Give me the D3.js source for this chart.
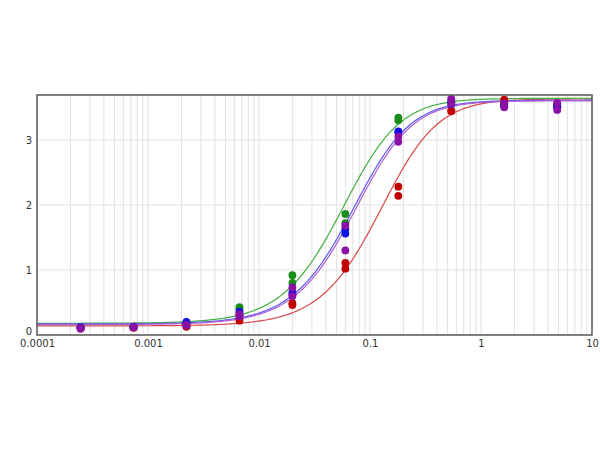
<!DOCTYPE html>
<html><head><meta charset="utf-8">
<script src="https://cdn.jsdelivr.net/npm/d3@7"></script>
<style>body{margin:0;background:#fff}svg{display:block}</style>
</head><body>
<svg id="c" width="600" height="450"></svg>
<script>
// Concentrations (3-fold dilution series)
const concentrations = [0.000247, 0.000741, 0.00222, 0.00667, 0.02, 0.06, 0.18, 0.54, 1.62, 4.86];
const xTickLabels = ["0.0001", "0.001", "0.01", "0.1", "1", "10"];
const yTickLabels = ["0", "1", "2", "3"];
const seriesNames = ["red", "green", "blue", "purple"];
// Replicate readings (two per concentration)
const redRep1    = [0.10, 0.11, 0.13, 0.28, 0.49, 1.11, 2.28, 3.45, 3.62, 3.55];
const redRep2    = [0.11, 0.12, 0.13, 0.22, 0.46, 1.02, 2.14, 3.44, 3.58, 3.50];
const greenRep1  = [0.12, 0.12, 0.17, 0.43, 0.92, 1.86, 3.34, 3.60, 3.55, 3.55];
const greenRep2  = [0.12, 0.12, 0.18, 0.40, 0.80, 1.72, 3.30, 3.57, 3.52, 3.50];
const blueRep1   = [0.11, 0.12, 0.20, 0.36, 0.65, 1.63, 3.13, 3.58, 3.54, 3.52];
const blueRep2   = [0.12, 0.13, 0.18, 0.32, 0.62, 1.56, 3.12, 3.55, 3.52, 3.50];
const purpleRep1 = [0.10, 0.12, 0.16, 0.32, 0.73, 1.68, 3.05, 3.63, 3.56, 3.57];
const purpleRep2 = [0.11, 0.12, 0.15, 0.29, 0.60, 1.30, 2.97, 3.56, 3.50, 3.46];
// Fitted 5-parameter logistic curves: bottom, top, c, slope, asymmetry
const fitBottom = [0.14, 0.18, 0.17, 0.16];
const fitTop    = [3.63, 3.64, 3.61, 3.60];
const fitC      = [0.158, 0.072, 0.089, 0.093];
const fitSlope  = [1.5, 1.5, 1.5, 1.5];
const fitAsym   = [1.35, 1.35, 1.35, 1.35];

const dotColors  = ["#c00000", "#1a8c1a", "#1010e0", "#8a10a8"];
const lineColors = ["#d84848", "#40b040", "#5a5af0", "#b060d0"];

const reps = [[redRep1, redRep2], [greenRep1, greenRep2], [blueRep1, blueRep2], [purpleRep1, purpleRep2]];

const svg = d3.select("#c");
const L = 37, R = 592, T = 95, B = 335;
const x = d3.scaleLog().domain([0.0001, 10]).range([L, R]);
const y = d3.scaleLinear().domain([0, 3.69]).range([B, T]);

// grid
const minor = [];
for (let e = -4; e < 1; e++) for (let m = 1; m < 10; m++) minor.push(m * Math.pow(10, e));
const grid = svg.append("g");
grid.selectAll("line.v").data(minor.filter(v => v > 0.0001 && v < 10)).join("line")
  .attr("x1", d => x(d)).attr("x2", d => x(d)).attr("y1", T).attr("y2", B)
  .attr("stroke", "#e2e2e2").attr("stroke-width", 1);
grid.selectAll("line.h").data([1, 2, 3]).join("line")
  .attr("x1", L).attr("x2", R).attr("y1", d => y(d)).attr("y2", d => y(d))
  .attr("stroke", "#e2e2e2").attr("stroke-width", 1);

// curves
const fine = d3.range(0, 401).map(i => Math.pow(10, -4 + 5 * i / 400));
seriesNames.forEach((s, k) => {
  const f = c => fitTop[k] + (fitBottom[k] - fitTop[k]) / Math.pow(1 + Math.pow(c / fitC[k], fitSlope[k]), fitAsym[k]);
  svg.append("path").datum(fine)
    .attr("d", d3.line().x(d => x(d)).y(d => y(f(d))))
    .attr("fill", "none").attr("stroke", lineColors[k]).attr("stroke-width", 1.2);
});

// points
seriesNames.forEach((s, k) => {
  reps[k].forEach(r => {
    svg.append("g").selectAll("circle").data(concentrations).join("circle")
      .attr("cx", d => x(d)).attr("cy", (d, i) => y(r[i])).attr("r", 3.9)
      .attr("fill", dotColors[k]);
  });
});

// frame
svg.append("rect").attr("x", L).attr("y", T).attr("width", R - L).attr("height", B - T)
  .attr("fill", "none").attr("stroke", "#555").attr("stroke-width", 1.5);

// axes labels
const xAxis = d3.axisBottom(x).tickValues([0.0001, 0.001, 0.01, 0.1, 1, 10])
  .tickFormat((d, i) => xTickLabels[i]).tickSize(0).tickPadding(5);
const gx = svg.append("g").attr("transform", `translate(0,${B})`).call(xAxis);
gx.select(".domain").remove();
gx.selectAll("text").attr("font-family", "DejaVu Sans, sans-serif").attr("font-size", 10).attr("fill", "#333");

const yAxis = d3.axisLeft(y).tickValues([0, 1, 2, 3])
  .tickFormat((d, i) => yTickLabels[i]).tickSize(0).tickPadding(5);
const gy = svg.append("g").attr("transform", `translate(${L},0)`).call(yAxis);
gy.select(".domain").remove();
gy.selectAll("text").attr("font-family", "DejaVu Sans, sans-serif").attr("font-size", 10).attr("fill", "#333");
// lift the "0" label slightly so it does not collide with "0.0001"
gy.selectAll(".tick").filter(d => d === 0).select("text").attr("dy", "-0.05em");
</script>
</body></html>
